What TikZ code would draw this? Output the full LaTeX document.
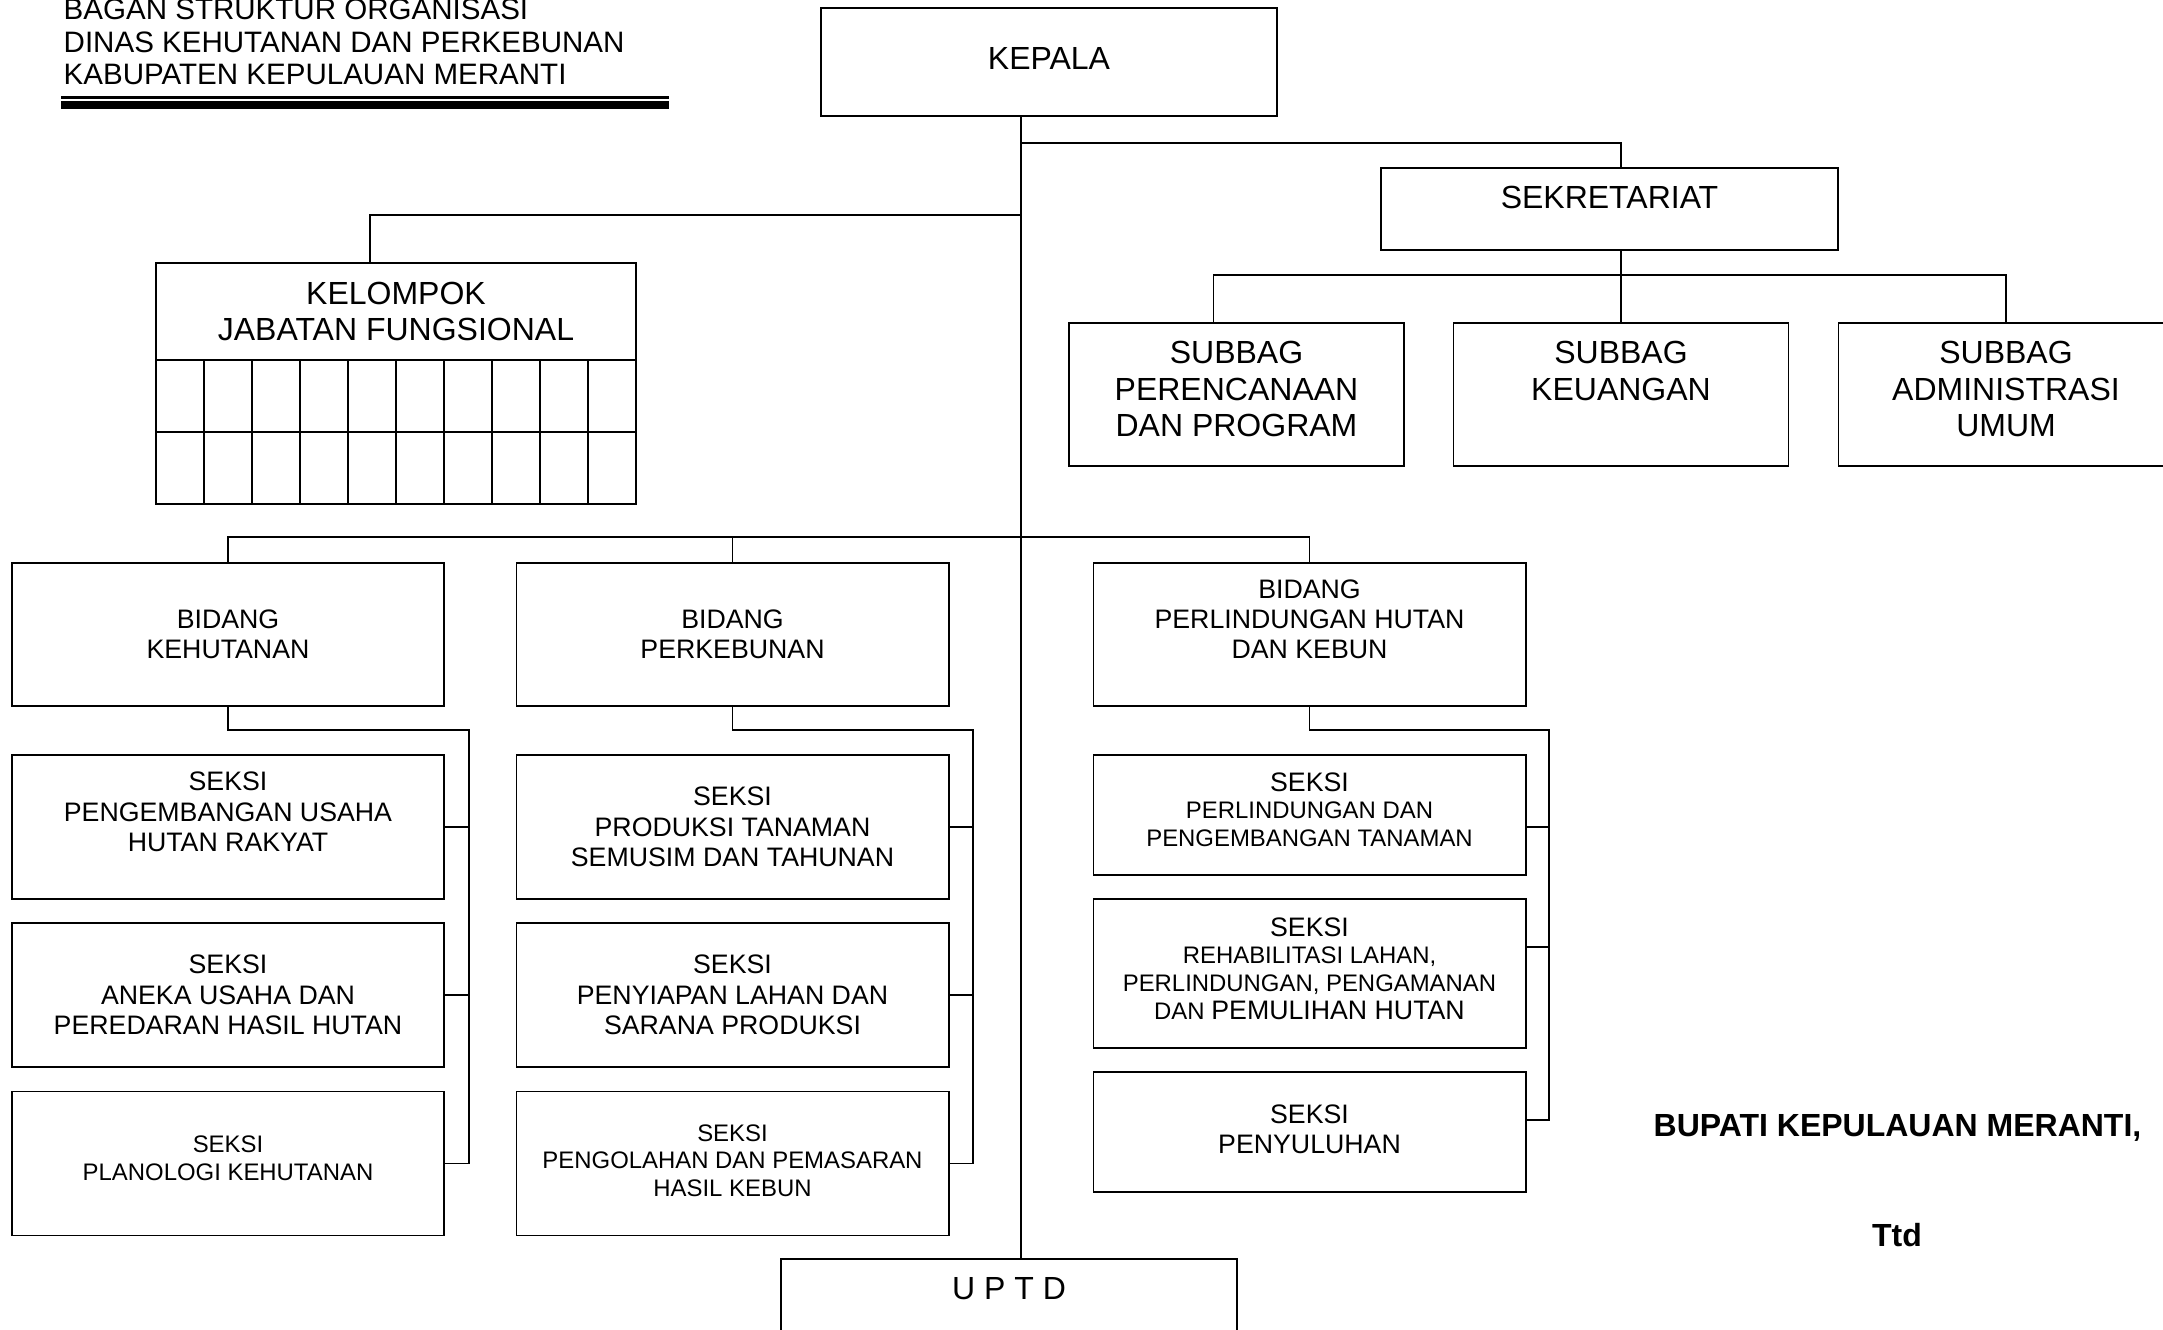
\documentclass[tikz,border=0pt]{standalone}
\usepackage{fontspec}
\setmainfont{Liberation Sans}
\usetikzlibrary{positioning}
\newcommand\szbig{\fontsize{9.1pt}{10.4pt}\selectfont}
\newcommand\szmid{\fontsize{7.6pt}{8.6pt}\selectfont}
\newcommand\szsmall{\fontsize{6.8pt}{7.9pt}\selectfont}
\newcommand\szjudul{\fontsize{8.4pt}{9.25pt}\selectfont}
\tikzset{
    link/.style = {line width=0.5pt,draw=black},
    unit/.style = {rectangle, line width=0.5pt, draw=black, align=center, inner sep=0pt, font=\szbig},
    subbag/.style = {unit, minimum width=3.35cm, minimum height=1.43cm, text depth=1.1mm},
    bidang/.style = {unit, minimum width=4.32cm, minimum height=1.43cm, font=\szmid},
    seksi/.style = {unit, minimum width=4.32cm, minimum height=1.44cm, font=\szmid},
    seksis/.style = {seksi, font=\szsmall},
    cell/.style = {rectangle, line width=0.5pt, draw=black, minimum width=0.48cm, minimum height=0.72cm, inner sep=0pt},
    ttd/.style = {inner sep=0pt, font=\bfseries\szbig}
}
\begin{document}
\begin{tikzpicture}[x=0.01cm,y=-0.01cm]
  \useasboundingbox (0,0) rectangle (2163,1329);

  \node[anchor=north west, inner sep=0pt, align=left, font=\szjudul] (judul) at (63,-1.5)
    {BAGAN STRUKTUR ORGANISASI\\DINAS KEHUTANAN DAN PERKEBUNAN\\KABUPATEN KEPULAUAN MERANTI};
  \draw[line width=0.6pt] (61,97.5) -- (669,97.5);
  \draw[line width=2.3pt] (61,105) -- (669,105);

  \node[unit, minimum width=4.56cm, minimum height=1.08cm, text depth=0.8mm] (kepala) at (1049,62) {KEPALA};
  \node[unit, minimum width=4.57cm, minimum height=0.82cm, text depth=2.3mm] (sekretariat) at (1609.5,209) {SEKRETARIAT};
  \node[subbag] (perencanaan) at (1236.5,394.5) {SUBBAG\\PERENCANAAN\\DAN PROGRAM};
  \node[subbag] (keuangan) at (1621,394.5) {SUBBAG\\KEUANGAN\\\mbox{}};
  \node[subbag] (administrasi) at (2006,394.5) {SUBBAG\\ADMINISTRASI\\UMUM};

  \node[unit, minimum width=4.8cm, minimum height=0.97cm] (kelompok) at (396,311.5) {KELOMPOK\\JABATAN FUNGSIONAL};
  \foreach \i in {0,...,9}
    \foreach \j in {0,1}
      \node[cell] (jf-\j-\i) at ({180+48*\i},{396+72*\j}) {};

  \node[bidang] (kehutanan) at (228,634.5) {BIDANG\\KEHUTANAN};
  \node[bidang] (perkebunan) at (732.5,634.5) {BIDANG\\PERKEBUNAN};
  \node[bidang] (perlindungan) at (1309.5,634.5) {BIDANG\\PERLINDUNGAN HUTAN\\DAN KEBUN\\\mbox{}};

  \node[seksi] (k1) at (228,827) {SEKSI\\PENGEMBANGAN USAHA\\HUTAN RAKYAT\\\mbox{}};
  \node[seksi] (k2) at (228,995) {SEKSI\\ANEKA USAHA DAN\\PEREDARAN HASIL HUTAN};
  \node[seksis, text depth=1.1mm] (k3) at (228,1163.5) {SEKSI\\PLANOLOGI KEHUTANAN};

  \node[seksi] (p1) at (732.5,827) {SEKSI\\PRODUKSI TANAMAN\\SEMUSIM DAN TAHUNAN};
  \node[seksi] (p2) at (732.5,995) {SEKSI\\PENYIAPAN LAHAN DAN\\SARANA PRODUKSI};
  \node[seksis, text depth=0.6mm] (p3) at (732.5,1163.5) {SEKSI\\PENGOLAHAN DAN PEMASARAN\\HASIL KEBUN};

  \node[seksis, minimum height=1.2cm, text depth=1.1mm] (l1) at (1309.5,815) {{\szmid SEKSI}\\PERLINDUNGAN DAN\\PENGEMBANGAN TANAMAN};
  \node[seksis, minimum height=1.49cm, text depth=1mm] (l2) at (1309.5,973.5)
    {{\szmid SEKSI}\\REHABILITASI LAHAN,\\PERLINDUNGAN, PENGAMANAN\\DAN {\szmid PEMULIHAN HUTAN}};
  \node[seksi, minimum height=1.2cm, text depth=0.6mm] (l3) at (1309.5,1132) {SEKSI\\PENYULUHAN};

  \node[unit, anchor=north, minimum width=4.56cm, minimum height=1.4cm, text depth=0.8cm] (uptd) at (1009,1258) {U P T D};

  \node[ttd] (bupati) at (1897.5,1128) {BUPATI KEPULAUAN MERANTI,};
  \node[ttd] (tanda) at (1897,1235) {Ttd};

  % garis komando
  \coordinate (axis) at (1021,0);
  \draw[link] (kepala.south -| axis) -- (uptd.north -| axis);
  \draw[link] (axis |- 0,143) -| (sekretariat.north -| keuangan.north);
  \draw[link] (sekretariat.south -| keuangan.north) -- (keuangan.north);
  \draw[link] ([xshift=-0.23cm]perencanaan.north) -- ++(0,-47) -| (administrasi.north);
  \draw[link] (axis |- 0,215) -| ([xshift=-0.26cm]kelompok.north);
  \draw[link] (kehutanan.north) -- ++(0,-25) -| (perlindungan.north);
  \draw[link] (perkebunan.north) -- ++(0,-25);

  \coordinate (rel1) at (469,730);
  \coordinate (rel2) at (973,730);
  \coordinate (rel3) at (1549,730);
  \draw[link] (kehutanan.south) |- (rel1) |- (k3.east);
  \draw[link] (k1.east) -- (k1.east -| rel1);
  \draw[link] (k2.east) -- (k2.east -| rel1);
  \draw[link] (perkebunan.south) |- (rel2) |- (p3.east);
  \draw[link] (p1.east) -- (p1.east -| rel2);
  \draw[link] (p2.east) -- (p2.east -| rel2);
  \draw[link] (perlindungan.south) |- (rel3) |- ([yshift=0.12cm]l3.east);
  \draw[link] ([yshift=-0.12cm]l1.east) -- ([yshift=-0.12cm]l1.east -| rel3);
  \draw[link] ([yshift=0.265cm]l2.east) -- ([yshift=0.265cm]l2.east -| rel3);
\end{tikzpicture}
\end{document}
